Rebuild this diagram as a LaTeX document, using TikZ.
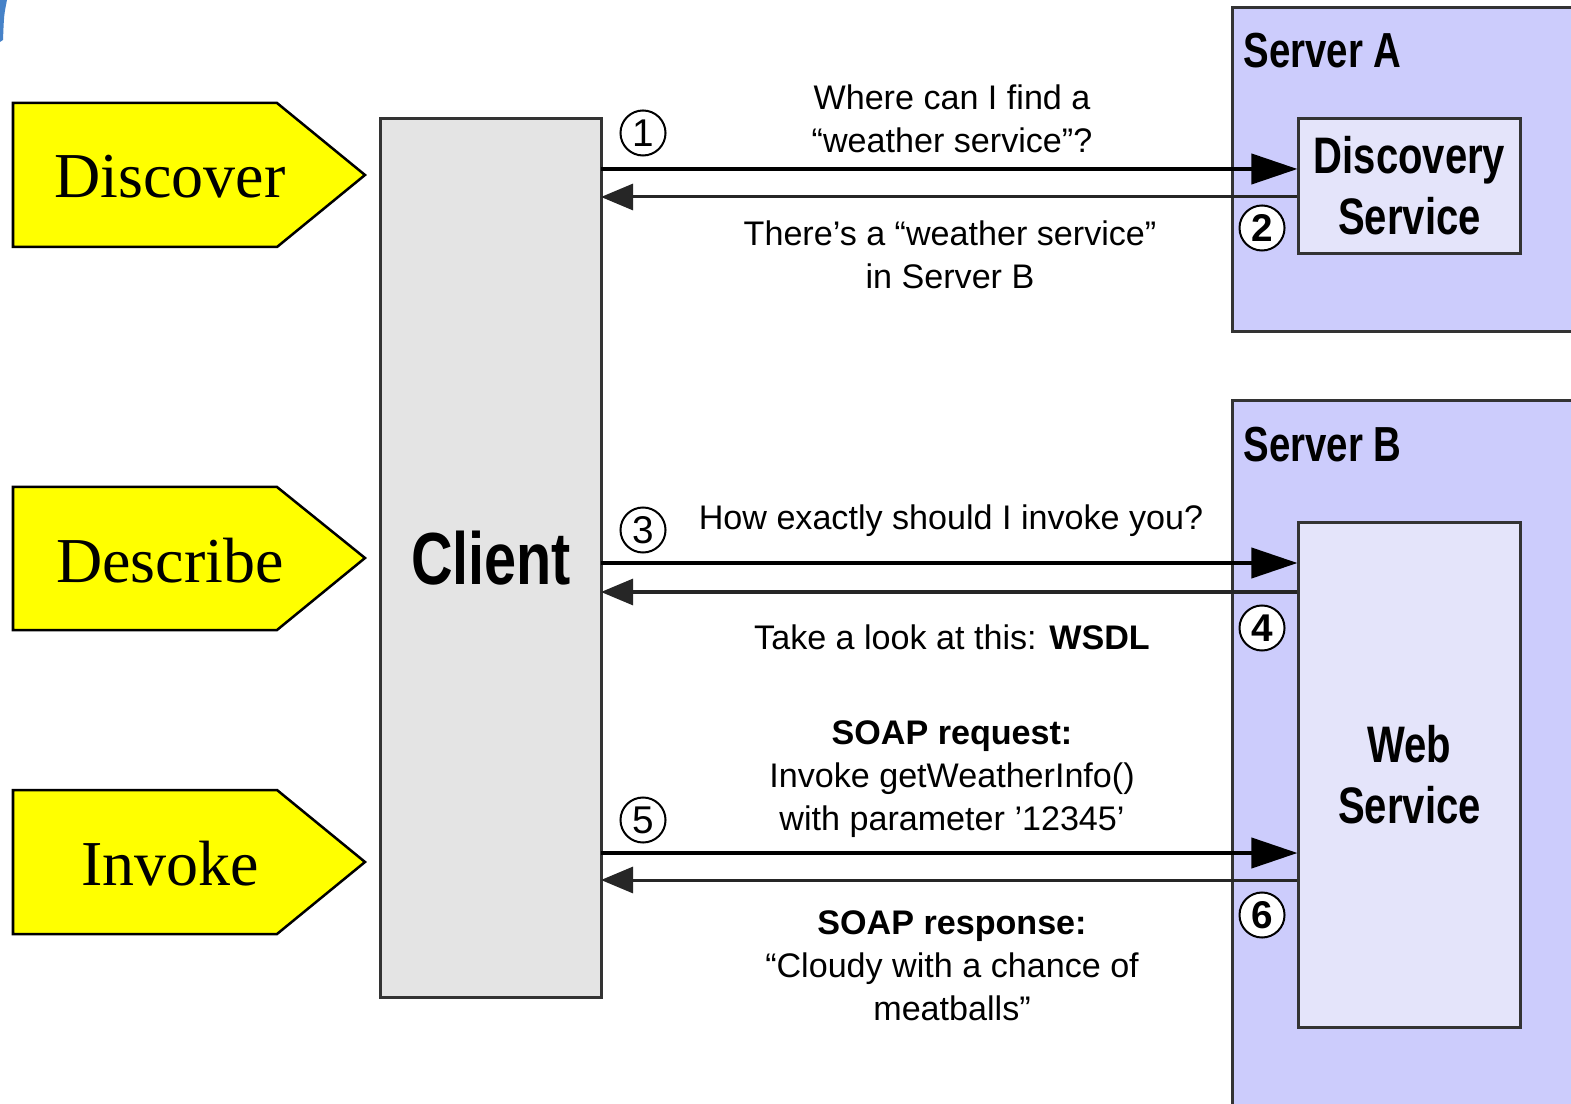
\documentclass[tikz,border=0pt]{standalone}
\usepackage{fontspec}
\setmainfont{Liberation Serif}
\setsansfont{Liberation Sans}
\newfontfamily\narrowsans[FakeStretch=0.78]{Liberation Sans}
\usetikzlibrary{arrows.meta, positioning}
\definecolor{stageyellow}{RGB}{255, 255, 0}
\definecolor{clientgray}{RGB}{228, 228, 228}
\definecolor{serverlilac}{RGB}{204, 204, 252}
\definecolor{servicelilac}{RGB}{228, 228, 250}
\definecolor{edgegray}{RGB}{51, 51, 51}
\definecolor{cornerblue}{RGB}{70, 130, 200}
\tikzset{
    % Stage arrows on the left
    stage arrow/.style={
        draw=black, line width=0.025cm, fill=stageyellow
    },
    stage text/.style={
        inner sep=0pt, font=\fontsize{18.2}{21}\selectfont
    },
    % Client column
    client box/.style={
        rectangle, draw=edgegray, line width=0.03cm, fill=clientgray,
        minimum width=2.2cm, minimum height=8.78cm, inner sep=0pt,
        font=\narrowsans\bfseries\fontsize{21}{24}\selectfont
    },
    % Server areas
    server box/.style={
        rectangle, draw=edgegray, line width=0.03cm, fill=serverlilac, inner sep=0pt
    },
    server title/.style={
        anchor=base west, inner sep=0pt,
        font=\narrowsans\bfseries\fontsize{14}{17}\selectfont
    },
    service box/.style={
        rectangle, draw=edgegray, line width=0.03cm, fill=servicelilac,
        minimum width=2.21cm, inner sep=0pt, align=center,
        font=\narrowsans\bfseries\fontsize{14.6}{17.3}\selectfont
    },
    % Messages
    msg text/.style={
        align=center, inner sep=0pt, font=\sffamily\fontsize{9.7}{12.2}\selectfont
    },
    step num/.style={
        circle, draw=black, line width=0.02cm, fill=white, minimum size=0.45cm,
        inner sep=0pt, font=\sffamily\fontsize{11}{11}\selectfont
    },
    step num bold/.style={
        step num, font=\sffamily\bfseries\fontsize{11}{11}\selectfont
    },
    % Arrows
    request/.style={
        -{Triangle[length=0.46cm, width=0.3cm]}, line width=0.04cm, black
    },
    reply/.style={
        -{Triangle[length=0.32cm, width=0.26cm]}, line width=0.03cm, black!85
    }
}
\begin{document}
\begin{tikzpicture}[x=0.01cm, y=-0.01cm]

    \clip (0, 0) rectangle (1571, 1104);
    \fill[white] (0, 0) rectangle (1571, 1104);
    \fill[cornerblue] (0, 0) -- (7, 0) .. controls (4, 15) .. (3, 40) -- (0, 42) -- cycle;

    % ======== STAGES ========
    \draw[stage arrow] (13, 103) -- (277, 103) -- (365, 175) -- (277, 247) -- (13, 247) -- cycle;
    \node[stage text] (discover) at (170, 177) {Discover};

    \draw[stage arrow] (13, 487) -- (277, 487) -- (365, 558) -- (277, 630) -- (13, 630) -- cycle;
    \node[stage text] (describe) at (170, 561) {Describe};

    \draw[stage arrow] (13, 790) -- (277, 790) -- (365, 862) -- (277, 934) -- (13, 934) -- cycle;
    \node[stage text] (invoke) at (170, 864) {Invoke};

    % ======== CLIENT ========
    \node[client box] (client) at (491, 558) {Client};

    % ======== SERVERS ========
    \node[server box, minimum width=3.6cm, minimum height=3.23cm] (serverA) at (1413, 169.5) {};
    \node[server title] (titleA) at (1243, 68) {Server A};
    \node[service box, minimum height=1.34cm] (disc) at (1409.5, 186) {Discovery\\Service};

    \node[server box, minimum width=3.6cm, minimum height=7.19cm] (serverB) at (1413, 760.5) {};
    \node[server title] (titleB) at (1243, 462) {Server B};
    \node[service box, minimum height=5.04cm] (web) at (1409.5, 775) {Web\\Service};

    % ======== MESSAGES ========
    % 1 / 2: discovery
    \coordinate (q1) at (601, 169);
    \coordinate (a2) at (601, 197);
    \draw[request] (q1) -- (q1 -| disc.west);
    \draw[reply] (a2 -| disc.west) -- (a2);
    \node[step num] (n1) at (643, 133) {1};
    \node[step num bold] (n2) at (1262, 228) {2};
    \node[msg text] (m1) at (952, 119) {Where can I find a\\“weather service”?};
    \node[msg text] (m2) at (950, 255) {There's a “weather service”\\in Server B};

    % 3 / 4: description
    \coordinate (q3) at (601, 563);
    \coordinate (a4) at (601, 592);
    \draw[request] (q3) -- (q3 -| web.west);
    \draw[reply] (a4 -| web.west) -- (a4);
    \node[step num] (n3) at (643, 530) {3};
    \node[step num bold] (n4) at (1262, 628) {4};
    \node[msg text] (m3) at (951, 521) {How exactly should I invoke you?};
    \node[msg text] (m4) at (952, 637) {Take a look at this: \textbf{WSDL}};

    % 5 / 6: invocation
    \coordinate (q5) at (601, 853);
    \coordinate (a6) at (601, 880);
    \draw[request] (q5) -- (q5 -| web.west);
    \draw[reply] (a6 -| web.west) -- (a6);
    \node[step num] (n5) at (643, 820) {5};
    \node[step num bold] (n6) at (1262, 915) {6};
    \node[msg text] (m5) at (952, 779) {\textbf{SOAP request:}\\Invoke getWeatherInfo()\\with parameter '12345'};
    \node[msg text] (m6) at (952, 966) {\textbf{SOAP response:}\\“Cloudy with a chance of\\meatballs”};

\end{tikzpicture}
\end{document}
